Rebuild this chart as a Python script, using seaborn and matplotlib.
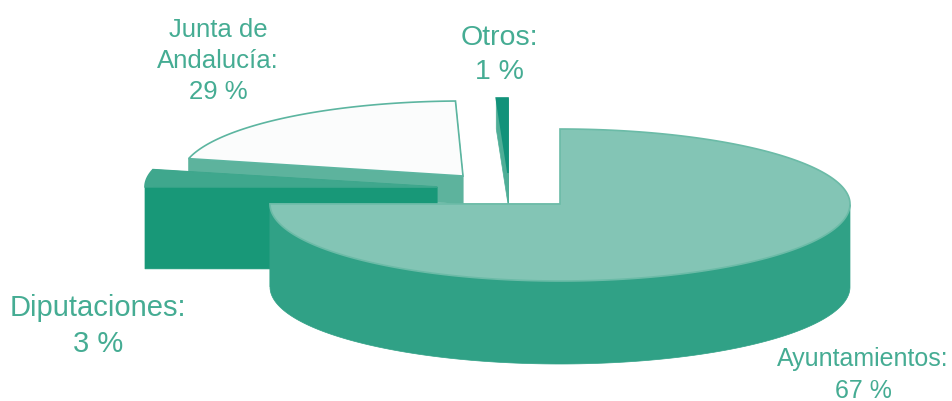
import numpy as np
import seaborn as sns
import matplotlib.pyplot as plt

# shares of the pie, clockwise from 12 o'clock
categories = ['Ayuntamientos', 'Diputaciones', 'Junta de\nAndalucía', 'Otros']
shares = [67, 3, 29, 1]

sns.set_theme(style='white')
plt.rcParams['font.family'] = ['Liberation Sans', 'DejaVu Sans']

# drawing style of each slice, all in image pixels
apexes = [(560, 205), (437, 188), (463, 177), (508, 174)]
radii_x = [290, 292, 282, 440]
depths = [83, 82, 28, 31]
tops = ['#83c5b5', '#3fa78d', '#fbfcfc', '#12927a']
walls = ['#30a186', '#189878', '#5db39d', '#4fae97']
edges = ['#6bbba7', '#3fa78d', '#5cb5a0', '#12927a']
label_pos = [(863, 375), (98, 326), (218, 61), (499, 55)]
label_size = [18, 21, 18.5, 20.5]
draw_order = [3, 2, 1, 0]

RY_BACK, RY_FRONT = 75, 77
TEXT = '#45ac93'


def view_angle(frac):
    # the 3d view squeezes the back of the pie and stretches the front
    sweep = 360 * frac
    return 90 - (sweep - 33 * np.sin(np.radians(sweep)))


def rim_point(i, ang):
    rad = np.radians(ang)
    ry = np.where(np.sin(rad) > 0, RY_BACK, RY_FRONT)
    return apexes[i][0] + radii_x[i] * np.cos(rad), apexes[i][1] - ry * np.sin(rad)


def draw_slice(ax, i, start, end):
    ang = np.linspace(start, end, 240)
    x, y = rim_point(i, ang)
    cx, cy = apexes[i]
    d = depths[i]

    # cut faces
    for a in (end, start):
        px, py = rim_point(i, a)
        ax.fill([px, cx, cx, px], [py, cy, cy + d, py + d], color=walls[i], lw=0.5)

    # outer wall, only where the rim faces us
    front = np.sin(np.radians(ang)) <= 0
    if front.any():
        fx, fy = x[front], y[front]
        ax.fill(np.r_[fx, fx[::-1]], np.r_[fy, (fy + d)[::-1]], color=walls[i], lw=0.5)

    ax.fill(np.r_[cx, x], np.r_[cy, y], facecolor=tops[i], edgecolor=edges[i], lw=1.2)


fig, ax = plt.subplots(figsize=(9.53, 4.02), dpi=100)
fig.subplots_adjust(0, 0, 1, 1)
ax.set_xlim(0, 953)
ax.set_ylim(402, 0)
ax.axis('off')

cum = np.cumsum([0] + shares) / sum(shares)
for i in draw_order:
    draw_slice(ax, i, view_angle(cum[i]), view_angle(cum[i + 1]))

for name, val, pos, size in zip(categories, shares, label_pos, label_size):
    ax.text(pos[0], pos[1], f'{name}:\n{val} %', color=TEXT, fontsize=size,
            ha='center', va='center', linespacing=1.39, clip_on=False)

fig.savefig('out.png', dpi=100)
